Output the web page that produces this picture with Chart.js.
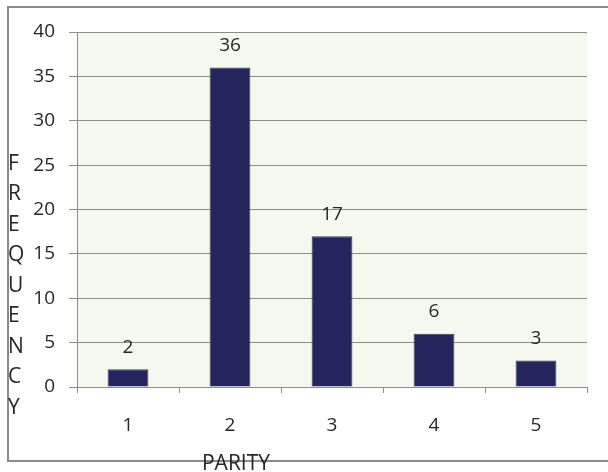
<!DOCTYPE html>
<html>
<head>
<meta charset="utf-8">
<script src="https://cdn.jsdelivr.net/npm/chart.js@4.4.1/dist/chart.umd.min.js"></script>
<style>
  html, body { margin: 0; padding: 0; background: #fff; }
  #wrap { width: 608px; height: 472px; position: relative; }
</style>
</head>
<body>
<div id="wrap"><canvas id="parityChart" width="608" height="472"></canvas></div>
<script>
const categories = ['1', '2', '3', '4', '5'];
const frequency = [2, 36, 17, 6, 3];
const yTicks = [0, 5, 10, 15, 20, 25, 30, 35, 40];
const xTitle = 'PARITY';
const yTitle = 'FREQUENCY';

const FONT = '"Open Sans", "Noto Sans", sans-serif';
const TEXT = '#262626';
const GRID = '#8c8c8c';

// frame round the picture, plot background
const framePlugin = {
    id: 'frame',
    beforeDraw(chart) {
        const { ctx, chartArea: a } = chart;
        ctx.save();
        ctx.fillStyle = '#f4f8ef';
        ctx.fillRect(a.left, a.top, a.right - a.left, a.bottom - a.top);
        ctx.strokeStyle = '#8a8a8a';
        ctx.lineWidth = 2;
        ctx.strokeRect(8, 7, 640, 454);
        ctx.restore();
    }
};

// value labels above bars, stacked y title, x title sitting on the frame
const labelPlugin = {
    id: 'labels',
    afterDatasetsDraw(chart) {
        const { ctx } = chart;
        ctx.save();
        ctx.fillStyle = TEXT;
        ctx.font = '19px ' + FONT;
        ctx.textAlign = 'center';
        ctx.textBaseline = 'middle';
        chart.getDatasetMeta(0).data.forEach((bar, i) => {
            ctx.fillText(String(frequency[i]), bar.x, bar.y - 22);
        });

        ctx.font = '21px ' + FONT;
        ctx.fillText(xTitle, 236, 464);

        ctx.textAlign = 'left';
        yTitle.split('').forEach((ch, i) => {
            ctx.fillText(ch, 8, 164 + i * 30.5);
        });
        ctx.restore();
    }
};

new Chart(document.getElementById('parityChart'), {
    type: 'bar',
    data: {
        labels: categories,
        datasets: [{
            data: frequency,
            backgroundColor: '#25255e',
            borderColor: '#3a4040',
            borderWidth: 1,
            barPercentage: 0.4,
            categoryPercentage: 1.0
        }]
    },
    options: {
        responsive: false,
        animation: false,
        layout: { padding: { left: 0, top: 32, right: 21, bottom: 0 } },
        plugins: {
            legend: { display: false },
            tooltip: { enabled: false }
        },
        scales: {
            x: {
                grid: {
                    offset: true,
                    drawOnChartArea: false,
                    drawTicks: true,
                    tickLength: 6,
                    color: GRID
                },
                border: { color: GRID },
                ticks: { color: TEXT, font: { family: FONT, size: 19 }, padding: 21 },
                afterFit(scale) { scale.height = 85; }
            },
            y: {
                min: 0,
                max: 40,
                afterBuildTicks(scale) { scale.ticks = yTicks.map(v => ({ value: v })); },
                grid: { color: GRID, tickLength: 8 },
                border: { color: GRID },
                ticks: { color: TEXT, font: { family: FONT, size: 19 }, padding: 14 },
                afterFit(scale) { scale.width = 77; }
            }
        }
    },
    plugins: [framePlugin, labelPlugin]
});
</script>
</body>
</html>
